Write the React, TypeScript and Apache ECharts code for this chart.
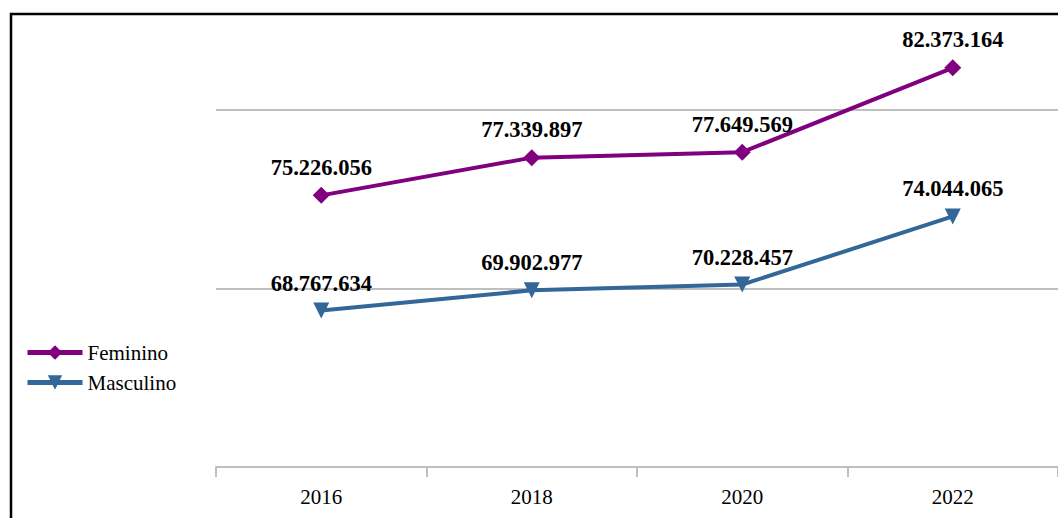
import React, { useEffect, useRef } from "react";
import * as echarts from "echarts";

const years = ["2016", "2018", "2020", "2022"];
const feminino = [75226056, 77339897, 77649569, 82373164];
const masculino = [68767634, 69902977, 70228457, 74044065];

const fmt = (v: number) => String(Math.round(v)).replace(/\B(?=(\d{3})+(?!\d))/g, ".");

export default function App() {
  const ref = useRef<HTMLDivElement>(null);
  useEffect(() => {
    const chart = echarts.init(ref.current!, null, { renderer: "svg" });
    const labelStyle = {
      show: true,
      position: "top" as const,
      distance: 8,
      fontFamily: "Liberation Serif",
      fontWeight: "bold" as const,
      fontSize: 22.5,
      color: "#000",
      formatter: (p: any) => fmt(p.value),
    };
    chart.setOption({
      animation: false,
      backgroundColor: "#fff",
      grid: { left: 216, width: 844, top: 21, bottom: 51 },
      legend: {
        orient: "vertical",
        left: 20,
        top: 337,
        itemWidth: 55,
        itemHeight: 18,
        itemGap: 9,
        lineStyle: { width: 5 },
        textStyle: { fontFamily: "Liberation Serif", fontSize: 21, color: "#000" },
        data: ["Feminino", "Masculino"],
      },
      graphic: [
        {
          type: "rect",
          shape: { x: 11, y: 14, width: 1100, height: 600 },
          style: { fill: "none", stroke: "#000", lineWidth: 2.5 },
          silent: true,
        },
      ],
      xAxis: {
        type: "category",
        data: years,
        boundaryGap: true,
        axisLine: { lineStyle: { color: "#bfbfbf", width: 2 } },
        axisTick: { show: true, length: 10, lineStyle: { color: "#bfbfbf", width: 2 } },
        axisLabel: { fontFamily: "Liberation Serif", fontSize: 21, color: "#000", margin: 19 },
      },
      yAxis: {
        type: "value",
        min: 60000000,
        max: 85000000,
        interval: 10000000,
        axisLabel: { show: false },
        axisLine: { show: false },
        axisTick: { show: false },
        splitLine: {
          lineStyle: { color: ["#bfbfbf", "#bfbfbf", "#bfbfbf", "rgba(0,0,0,0)"], width: 2 },
        },
      },
      series: [
        {
          name: "Feminino",
          type: "line",
          data: feminino,
          symbol: "diamond",
          symbolSize: 17,
          lineStyle: { color: "#800080", width: 4 },
          itemStyle: { color: "#800080" },
          label: labelStyle,
        },
        {
          name: "Masculino",
          type: "line",
          data: masculino,
          symbol: "triangle",
          symbolRotate: 180,
          symbolSize: 16,
          lineStyle: { color: "#336699", width: 4 },
          itemStyle: { color: "#336699" },
          label: labelStyle,
        },
      ],
    });
    return () => chart.dispose();
  }, []);
  return <div ref={ref} style={{ width: 1058, height: 518, position: "absolute", left: 0, top: 0 }} />;
}
